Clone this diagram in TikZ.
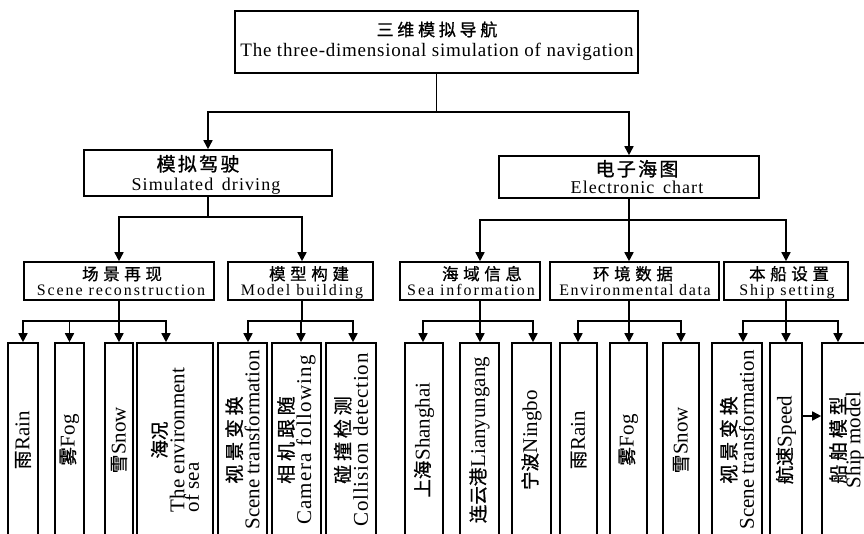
\documentclass[tikz,border=0pt]{standalone}
\usepackage{fontspec}
\usepackage{calc}
\setmainfont{Liberation Serif}
\newfontfamily\cjk[FakeBold=1]{Noto Sans CJK SC}
\usetikzlibrary{arrows.meta}
\newcommand\tcn[3]{{\fontsize{#1}{#1}\selectfont\cjk\addfontfeature{LetterSpace=#2}#3}}
\newcommand\ten[3]{{\fontsize{#1}{#1}\selectfont\addfontfeature{LetterSpace=#2}#3}}
\newcommand\lcn[1]{{\fontsize{18.5}{18}\selectfont\cjk #1}}
\newcommand\lcns[1]{{\fontsize{19}{18}\selectfont\cjk\addfontfeature{LetterSpace=20}#1}}
\newcommand\lsp[2]{{\addfontfeature{LetterSpace=#1}#2}}
\begin{document}
\begin{tikzpicture}[x=1pt,y=-1pt,line width=1.6pt,
  box/.style={draw,line width=1.6pt,inner sep=0pt},
  leaf/.style={draw,line width=1.6pt,inner sep=0pt,rotate=90,minimum width=194pt,align=center,
    font=\fontsize{21}{18}\selectfont},
  arr/.style={-{Triangle[length=9pt,width=9pt]}},
  txt/.style={anchor=base,inner sep=0pt}]
\useasboundingbox (0,0) rectangle (864,533);
\clip (0,0) rectangle (864,533);
% level 1
\node[box,minimum width=403pt,minimum height=62pt] (top) at (436.5,42) {};
\node[txt] (topcn) at (437,36) {\tcn{17}{22}{三维模拟导航}};
\node[txt] (topen) at (437,56) {\ten{19}{4}{The three-dimensional simulation of navigation}};
% level 2
\node[box,minimum width=248pt,minimum height=46pt] (sd) at (208,173) {};
\node[txt] (sdcn) at (198,171) {\tcn{19}{12}{模拟驾驶}};
\node[txt] (sden) at (206,190.7) {\ten{18}{6}{Simulated\hspace{3pt} driving}};
\node[box,minimum width=260pt,minimum height=42pt] (ec) at (629,177) {};
\node[txt] (eccn) at (637,176) {\tcn{19}{12}{电子海图}};
\node[txt] (ecen) at (637,193.5) {\ten{18}{6}{Electronic\hspace{3pt} chart}};
% level 3
\node[box,minimum width=190pt,minimum height=38pt] (sr) at (119,281) {};
\node[txt] (srcn) at (122,280) {\tcn{16.5}{28}{场景再现}};
\node[txt] (sren) at (121,295) {\ten{16}{12}{Scene reconstruction}};
\node[box,minimum width=145pt,minimum height=38pt] (mb) at (300.5,281) {};
\node[txt] (mbcn) at (309,280) {\tcn{16.5}{28}{模型构建}};
\node[txt] (mben) at (302,295) {\ten{16}{12}{Model building}};
\node[box,minimum width=140pt,minimum height=38pt] (si) at (470,281) {};
\node[txt] (sicn) at (482,280) {\tcn{16.5}{28}{海域信息}};
\node[txt] (sien) at (471,295) {\ten{16}{12}{Sea information}};
\node[box,minimum width=169pt,minimum height=38pt] (ed) at (634.5,281) {};
\node[txt] (edcn) at (633,280) {\tcn{16.5}{28}{环境数据}};
\node[txt] (eden) at (635,295) {\ten{16}{10}{Environmental data}};
\node[box,minimum width=124pt,minimum height=38pt] (ss) at (786,281) {};
\node[txt] (sscn) at (789,280) {\tcn{16.5}{28}{本船设置}};
\node[txt] (ssen) at (787,295) {\ten{16}{12}{Ship setting}};
% leaves
\node[leaf,minimum height=30pt] (l1) at (23,440) {\lcn{雨}Rain};
\node[leaf,minimum height=29pt] (l2) at (69.5,440) {\lcn{雾}Fog};
\node[leaf,minimum height=28pt] (l3) at (119,440) {\lcn{雪}Snow};
\node[leaf,minimum height=76pt,align=left] (l4) at (175,440)
  {\makebox[\widthof{The environment}]{\lcn{海况}}\\The environment\\[-3.5pt]of sea};
\node[leaf,minimum height=49pt] (m1) at (242.5,440) {\lcns{视景变换}\\Scene transformation};
\node[leaf,minimum height=49pt] (m2) at (296.5,440) {\lcns{相机跟随}\\\lsp{6}{Camera following}};
\node[leaf,minimum height=50pt] (m3) at (351,440) {\lcns{碰撞检测}\\\lsp{4}{Collision detection}};
\node[leaf,minimum height=38pt] (s1) at (424,440) {\lcn{上海}Shanghai};
\node[leaf,minimum height=39pt] (s2) at (479.5,440) {\lcn{连云港}Lianyungang};
\node[leaf,minimum height=39pt] (s3) at (531.5,440) {\lcn{宁波}Ningbo};
\node[leaf,minimum height=37pt] (e1) at (578.5,440) {\lcn{雨}Rain};
\node[leaf,minimum height=37pt] (e2) at (628.5,440) {\lcn{雾}Fog};
\node[leaf,minimum height=36pt] (e3) at (681,440) {\lcn{雪}Snow};
\node[leaf,minimum height=50pt] (t1) at (737,440) {\lcns{视景变换}\\Scene transformation};
\node[leaf,minimum height=32pt] (t2) at (786,440) {\lcn{航速}Speed};
\node[leaf,minimum height=50pt] (t3) at (847,440) {\lcns{船舶模型}\\[-3pt]Ship model};
% connectors level 1 -> 2
\draw (top.south) -- ++(0,38) coordinate (j0);
\draw[arr] (j0) -| (sd.north);
\draw[arr] (j0) -| (ec.north);
% level 2 -> 3
\draw (sd.south) -- ++(0,20) coordinate (j1);
\draw[arr] (j1) -| (sr.north);
\draw[arr] (j1) -| ([xshift=1.5pt]mb.north);
\draw ([xshift=-5.5pt]ed.south |- ec.south) -- ++(0,21) coordinate (j2);
\draw[arr] (j2) -| ([xshift=10pt]si.north);
\draw[arr] (j2) -- (j2 |- ed.north);
\draw[arr] (j2) -| (ss.north);
% level 3 -> leaves
\draw (sr.south) -- ++(0,20) coordinate (j3);
\draw[arr] (j3) -| (l1.east);
\draw[arr] (j3) -| (l2.east);
\draw[arr] (j3) -- (l3.east);
\draw[arr] (j3) -| ([xshift=-9pt]l4.east);
\draw ([xshift=1.5pt]mb.south) -- ++(0,20) coordinate (j4);
\draw[arr] (j4) -| ([xshift=5.5pt]m1.east);
\draw[arr] (j4) -| ([xshift=4.5pt]m2.east);
\draw[arr] (j4) -| ([xshift=2pt]m3.east);
\draw ([xshift=10pt]si.south) -- ++(0,20) coordinate (j5);
\draw[arr] (j5) -| ([xshift=-1pt]s1.east);
\draw[arr] (j5) -| ([xshift=0.5pt]s2.east);
\draw[arr] (j5) -| ([xshift=1.5pt]s3.east);
\draw ([xshift=-5.5pt]ed.south) -- ++(0,20) coordinate (j6);
\draw[arr] (j6) -| ([xshift=-0.5pt]e1.east);
\draw[arr] (j6) -| ([xshift=0.5pt]e2.east);
\draw[arr] (j6) -| (e3.east);
\draw (ss.south) -- ++(0,20) coordinate (j7);
\draw[arr] (j7) -| ([xshift=6pt]t1.east);
\draw[arr] (j7) -- (t2.east);
\draw[arr] (j7) -| ([xshift=-9pt]t3.east);
\draw[arr] ([yshift=24pt]t2.south) -- ([yshift=24pt]t3.north);
\end{tikzpicture}
\end{document}
